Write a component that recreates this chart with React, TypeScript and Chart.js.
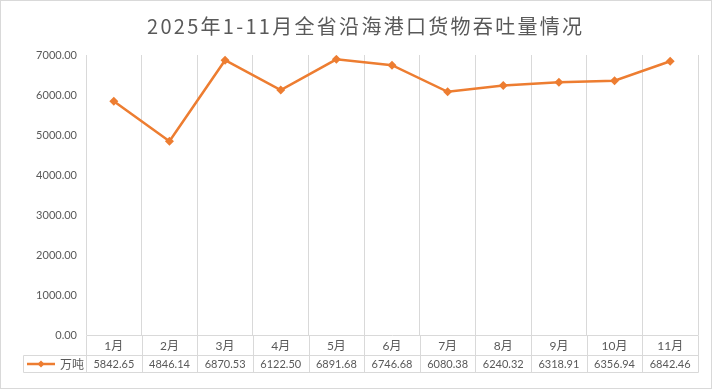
import React, { useEffect, useRef } from "react";
import { Chart, registerables } from "chart.js";

Chart.register(...registerables);

const TITLE = "2025年1-11月全省沿海港口货物吞吐量情况";
const SERIES_NAME = "万吨";
const categories = ["1月", "2月", "3月", "4月", "5月", "6月", "7月", "8月", "9月", "10月", "11月"];
const values = [5842.65, 4846.14, 6870.53, 6122.5, 6891.68, 6746.68, 6080.38, 6240.32, 6318.91, 6356.94, 6842.46];
const yTicks = [0, 1000, 2000, 3000, 4000, 5000, 6000, 7000];

const ORANGE = "#ED7D31";
const GRID = "#d9d9d9";
const TEXT = "#595959";
const NUM_FONT = "Lato, 'Noto Sans CJK SC', sans-serif";
const CJK_FONT = "'Noto Sans CJK SC', sans-serif";

function diamond(ctx: CanvasRenderingContext2D, x: number, y: number, r: number) {
  ctx.beginPath();
  ctx.moveTo(x, y - r);
  ctx.lineTo(x + r, y);
  ctx.lineTo(x, y + r);
  ctx.lineTo(x - r, y);
  ctx.closePath();
  ctx.fill();
}

const framePlugin = {
  id: "frame",
  afterDraw(chart: any) {
    const ctx: CanvasRenderingContext2D = chart.ctx;
    const { width, height } = chart;
    const area = chart.chartArea;
    const xs = chart.scales.x;
    ctx.save();
    // outer border
    ctx.strokeStyle = GRID;
    ctx.lineWidth = 1;
    ctx.strokeRect(0.5, 0.5, width - 1, height - 1);

    // title
    ctx.fillStyle = TEXT;
    ctx.font = `20px ${CJK_FONT}`;
    ctx.textBaseline = "middle";
    ctx.textAlign = "left";
    const w0 = ctx.measureText(TITLE).width;
    const chars = Array.from(TITLE).length;
    const targetW = 435;
    const sp = Math.max(0, (targetW - w0) / (chars - 1));
    (ctx as any).letterSpacing = `${sp}px`;
    ctx.fillText(TITLE, 147, 26);
    (ctx as any).letterSpacing = "0px";

    // data table
    const left = 23.5;
    const right = Math.round(area.right) + 0.5;
    const top = Math.round(area.bottom) + 0.5;
    const r1 = top + 20;
    const r2 = top + 37;
    ctx.strokeStyle = GRID;
    ctx.lineWidth = 1;
    ctx.beginPath();
    ctx.moveTo(Math.round(area.left) + 0.5, top);
    ctx.lineTo(right, top);
    ctx.moveTo(left, r1);
    ctx.lineTo(right, r1);
    ctx.moveTo(left, r2);
    ctx.lineTo(right, r2);
    ctx.moveTo(left, r1);
    ctx.lineTo(left, r2);
    const n = categories.length;
    for (let i = 0; i <= n; i++) {
      const px = area.left + ((area.right - area.left) * i) / n;
      const x = Math.round(px) + 0.5;
      ctx.moveTo(x, top);
      ctx.lineTo(x, r2);
    }
    ctx.stroke();

    ctx.fillStyle = TEXT;
    ctx.textAlign = "center";
    ctx.textBaseline = "middle";
    for (let i = 0; i < n; i++) {
      const cx = xs.getPixelForValue(i);
      ctx.font = `12px ${NUM_FONT}`;
      ctx.fillText(categories[i], cx, (top + r1) / 2 + 1);
      ctx.font = `11px ${NUM_FONT}`;
      ctx.fillText(values[i].toFixed(2), cx, (r1 + r2) / 2 + 0.5);
    }

    // legend key
    const ly = (r1 + r2) / 2;
    ctx.strokeStyle = ORANGE;
    ctx.lineWidth = 2.5;
    ctx.beginPath();
    ctx.moveTo(27, ly);
    ctx.lineTo(55, ly);
    ctx.stroke();
    ctx.fillStyle = ORANGE;
    diamond(ctx, 41, ly, 3.5);
    ctx.fillStyle = TEXT;
    ctx.textAlign = "left";
    ctx.font = `12px ${CJK_FONT}`;
    ctx.fillText(SERIES_NAME, 60, ly);
    ctx.restore();
  },
};

export default function App() {
  const ref = useRef<HTMLCanvasElement | null>(null);
  useEffect(() => {
    document.body.style.margin = "0";
    const canvas = ref.current;
    if (!canvas) return;
    const chart = new Chart(canvas, {
      type: "line",
      data: {
        labels: categories,
        datasets: [
          {
            label: SERIES_NAME,
            data: values,
            borderColor: ORANGE,
            backgroundColor: ORANGE,
            borderWidth: 2.5,
            pointStyle: "rectRot",
            pointRadius: 4.5,
            pointBackgroundColor: ORANGE,
            pointBorderColor: ORANGE,
            pointBorderWidth: 0,
            tension: 0,
          },
        ],
      },
      options: {
        responsive: false,
        animation: false,
        devicePixelRatio: 1,
        layout: { padding: { top: 55, bottom: 54, left: 0, right: 14 } },
        plugins: {
          legend: { display: false },
          title: { display: false },
          tooltip: { enabled: false },
        },
        scales: {
          x: {
            offset: true,
            grid: { offset: true, color: GRID, drawTicks: false, lineWidth: 1 },
            border: { display: false },
            ticks: { display: false },
            afterFit(scale: any) {
              scale.height = 0;
            },
          },
          y: {
            min: 0,
            max: 7000,
            afterBuildTicks(scale: any) {
              scale.ticks = yTicks.map((v) => ({ value: v }));
            },
            grid: { display: false, drawTicks: false },
            border: { display: false },
            ticks: {
              padding: 9,
              color: TEXT,
              font: { family: NUM_FONT, size: 11 },
              callback: (v: any) => Number(v).toFixed(2),
            },
            afterFit(scale: any) {
              scale.width = 86;
            },
          },
        },
      },
      plugins: [framePlugin],
    });
    return () => chart.destroy();
  }, []);
  return (
    <div style={{ width: 712, height: 389 }}>
      <canvas ref={ref} width={712} height={389} style={{ display: "block", width: 712, height: 389 }} />
    </div>
  );
}
